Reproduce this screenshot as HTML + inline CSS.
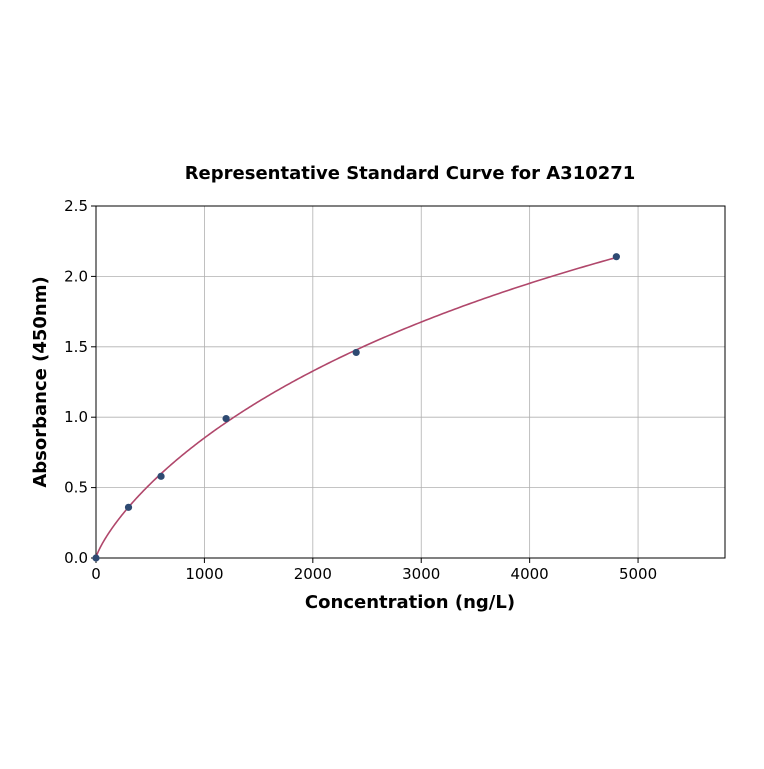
<!DOCTYPE html>
<html><head><meta charset="utf-8"><style>
body{margin:0;background:#fff;font-family:"Liberation Sans","DejaVu Sans",sans-serif}
</style></head><body>
<svg id="chart" width="764" height="764" xmlns="http://www.w3.org/2000/svg" font-family="DejaVu Sans, Liberation Sans, sans-serif">
<rect width="764" height="764" fill="#fff"/>
<text x="410" y="179" text-anchor="middle" font-size="18" font-weight="bold">Representative Standard Curve for A310271</text>
<g id="grid"></g>
<g id="axes"></g>
<path id="curve" fill="none" stroke="#b0476b" stroke-width="1.6"/>
<g id="pts"></g>
<text x="410" y="608" text-anchor="middle" font-size="18" font-weight="bold">Concentration (ng/L)</text>
<text transform="translate(46,382) rotate(-90)" text-anchor="middle" font-size="18" font-weight="bold">Absorbance (450nm)</text>
</svg>
<script>
const xConc=[0,300,600,1200,2400,4800];
const yAbs=[0,0.36,0.58,0.99,1.46,2.14];
const xTicks=[0,1000,2000,3000,4000,5000];
const yTicks=[0,0.5,1.0,1.5,2.0,2.5];
const L=96,R=725,T=206,B=558,xMax=5802,yMax=2.5;
const sx=v=>L+v/xMax*(R-L), sy=v=>B-v/yMax*(B-T);
const NS="http://www.w3.org/2000/svg";
function mk(tag,attrs,parent,txt){const e=document.createElementNS(NS,tag);for(const k in attrs)e.setAttribute(k,attrs[k]);if(txt!==undefined)e.textContent=txt;parent.appendChild(e);return e;}
const grid=document.getElementById('grid'),axes=document.getElementById('axes');
xTicks.forEach(t=>{const x=sx(t);
 const g=mk('line',{x1:x,x2:x,y1:T,y2:B,stroke:'#b0b0b0','stroke-width':0.8},grid);
 
 mk('line',{x1:x,x2:x,y1:B,y2:B+5,stroke:'#000'},axes);
 const l=mk('text',{x:x,y:B+21,'text-anchor':'middle','font-size':15},axes,String(t));
 });
yTicks.forEach(t=>{const y=sy(t);
 const g=mk('line',{x1:L,x2:R,y1:y,y2:y,stroke:'#b0b0b0','stroke-width':0.8},grid);
 
 mk('line',{x1:L-5,x2:L,y1:y,y2:y,stroke:'#000'},axes);
 const l=mk('text',{x:L-8,y:y+5,'text-anchor':'end','font-size':15},axes,t.toFixed(1));
 });
const f=mk('rect',{x:L,y:T,width:R-L,height:B-T,fill:'none',stroke:'#000','stroke-width':1},axes);

// fit y = d*x^b/(c^b+x^b) by grid search, d solved linearly
let best={err:1e9};
for(let b=0.3;b<=1.6;b+=0.01){for(let lc=2;lc<=7;lc+=0.02){const c=Math.pow(10,lc);
 let sg=0,sy2=0;const gs=xConc.map(x=>{const p=Math.pow(x,b);return p/(Math.pow(c,b)+p);});
 gs.forEach((g,i)=>{sg+=g*g;sy2+=g*yAbs[i];});const d=sy2/sg;
 let e=0;gs.forEach((g,i)=>{e+=(d*g-yAbs[i])**2;});
 if(e<best.err)best={err:e,b,c,d};}}
const model=x=>{const p=Math.pow(x,best.b);return best.d*p/(Math.pow(best.c,best.b)+p);};
let d='';const xe=xConc[xConc.length-1];
for(let i=0;i<=300;i++){const x=xe*Math.pow(i/300,2);d+=(i?'L':'M')+sx(x).toFixed(2)+','+sy(model(x)).toFixed(2);}
document.getElementById('curve').setAttribute('d',d);
const pts=document.getElementById('pts');
xConc.forEach((x,i)=>{const c=mk('circle',{cx:sx(x),cy:sy(yAbs[i]),r:3.6,fill:'#2e4a72'},pts);
 });
</script>
</body></html>
